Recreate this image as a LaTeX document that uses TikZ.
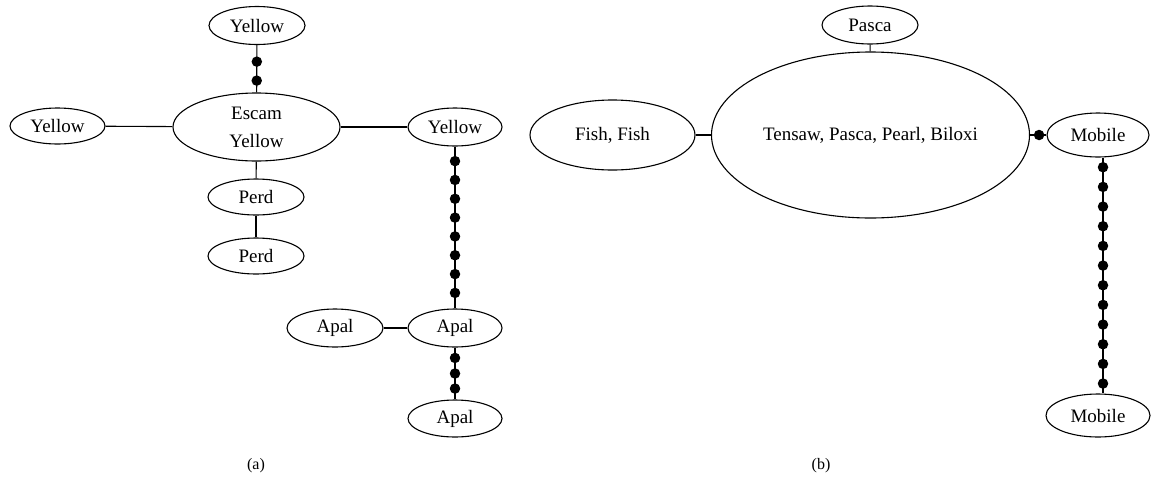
\documentclass[tikz,border=0pt]{standalone}
\usepackage{fontspec}
\setmainfont{Liberation Serif}
\usetikzlibrary{shapes.geometric}
\begin{document}
\begin{tikzpicture}[x=1pt,y=-1pt,
  every node/.style={font=\fontsize{19}{23}\selectfont},
  oval/.style={draw,ellipse,line width=1.1pt,inner sep=0pt},
  link/.style={line width=1.1pt},
  dot/.style={circle,fill=black,draw=none,minimum size=10.5pt,inner sep=0pt},
  subcaption/.style={font=\fontsize{16}{18}\selectfont}]
\useasboundingbox (0,0) rectangle (1151,480);

% ---- left tree (a)
\node[oval,minimum width=96pt,minimum height=38pt] (ytop) at (257,25.5) {Yellow};
\node[oval,minimum width=167pt,minimum height=68pt,align=center] (escam) at (256.5,127) {Escam\\[5pt]Yellow};
\node[oval,minimum width=95pt,minimum height=36pt] (yleft) at (57.5,126) {Yellow};
\node[oval,minimum width=94pt,minimum height=38pt] (yright) at (455,127) {Yellow};
\node[oval,minimum width=96pt,minimum height=36pt] (perd1) at (256,197) {Perd};
\node[oval,minimum width=96pt,minimum height=36pt] (perd2) at (256,256) {Perd};
\node[oval,minimum width=94pt,minimum height=38pt] (apal) at (455,328) {Apal};
\node[oval,minimum width=96pt,minimum height=38pt] (apall) at (335,328) {Apal};
\node[oval,minimum width=94pt,minimum height=37pt] (apalb) at (455,418.5) {Apal};

\draw[link] (yleft) -- (escam);
\draw[link] (escam) -- (yright);
\draw[link] (escam) -- (perd1);
\draw[link] (perd1) -- (perd2);
\draw[link] (apall) -- (apal);
\draw[link] (ytop) -- (escam)
  foreach \p in {0.35,0.75} {node[dot,pos=\p]{}};
\draw[link] (yright) -- (apal)
  foreach \p in {0.09,0.2063,0.3226,0.4389,0.5551,0.6714,0.7877,0.904} {node[dot,pos=\p]{}};
\draw[link] (apal) -- (apalb)
  foreach \p in {0.2,0.5,0.79} {node[dot,pos=\p]{}};

\node[subcaption] (capa) at (256,466) {(a)};

% ---- right tree (b)
\node[oval,minimum width=96pt,minimum height=38pt] (pasca) at (870,25) {Pasca};
\node[oval,minimum width=318pt,minimum height=166pt] (big) at (870.5,135) {Tensaw, Pasca, Pearl, Biloxi};
\node[oval,minimum width=165pt,minimum height=70pt] (fish) at (612.5,135) {Fish, Fish};
\node[oval,minimum width=102pt,minimum height=44pt] (mob) at (1098,135) {Mobile};
\node[oval,minimum width=104pt,minimum height=43pt] (mobb) at (1098,415.5) {Mobile};

\draw[link] (pasca) -- (big);
\draw[link] (fish) -- (big);
\draw[link] (big) -- (mob) node[dot,pos=0.55]{};
\draw[link] ([xshift=5pt]mob.south) -- ([xshift=5pt]mobb.north)
  foreach \p in {0.041,0.1244,0.2078,0.2911,0.3745,0.4579,0.5413,0.6246,0.708,0.7914,0.8747,0.958} {node[dot,pos=\p]{}};

\node[subcaption] (capb) at (821,466) {(b)};
\end{tikzpicture}
\end{document}
